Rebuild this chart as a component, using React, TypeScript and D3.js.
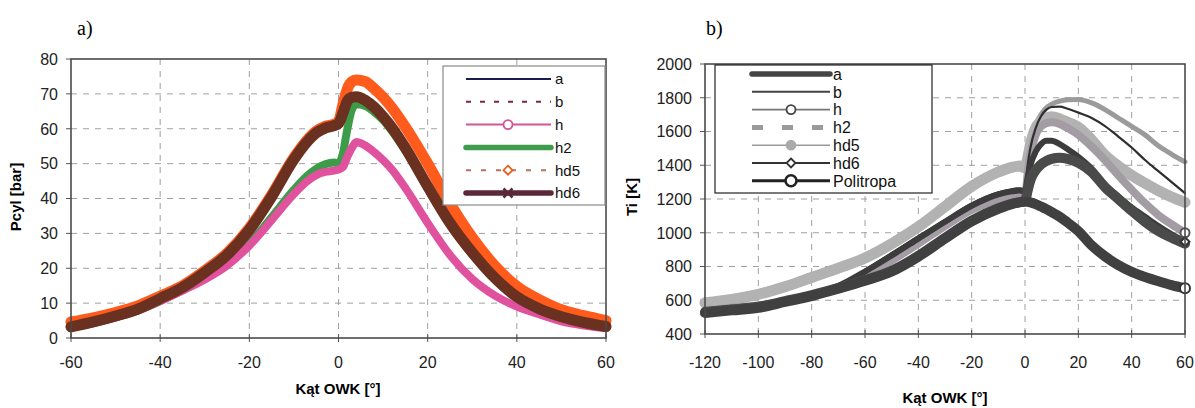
import React from "react";
import * as d3 from "d3";

// ---- panel a) : cylinder pressure ----
const angA = [-60, -55, -50, -45, -40, -35, -30, -25, -20, -15, -10, -7, -5, -3, -1, 0, 1, 2, 3, 4, 6, 8, 10, 12, 15, 20, 25, 30, 35, 40, 45, 50, 55, 60];
const pA = [3.1, 4.5, 6.2, 8.2, 11.1, 14.3, 18.5, 23.5, 30.7, 40, 50.6, 55.8, 58.3, 59.8, 60.5, 61, 64, 67.5, 68.5, 68.8, 67.8, 65.8, 63, 59.8, 54, 43, 32.6, 24.1, 17, 11.6, 8.2, 6, 4.4, 3.2];
const pB = [3.3, 4.7, 6.4, 8.4, 11.4, 14.6, 19, 24, 31.2, 40.7, 51.4, 56.5, 59, 60.4, 61.1, 61.7, 65, 68.3, 69.2, 69.4, 68.4, 66.4, 63.7, 60.5, 54.8, 43.8, 33.3, 24.8, 17.5, 12, 8.5, 6.2, 4.6, 3.4];
const pH = [3, 4.3, 5.9, 7.9, 10.6, 13.6, 16.8, 20.8, 26.5, 33.8, 41.3, 45, 46.7, 47.6, 48, 48.3, 49, 52, 54.5, 56.2, 55.2, 53.3, 51, 48.3, 43, 33, 23.8, 16.9, 12.2, 9, 6.8, 4.8, 3.6, 2.8];
const pH2 = [3, 4.3, 5.9, 7.9, 10.6, 13.7, 17, 21.1, 27, 34.6, 42.5, 46.5, 48.5, 49.8, 50.3, 50, 53, 60, 65.5, 67, 66.5, 64.8, 62.5, 59.3, 53.7, 42.8, 32.4, 24, 17, 11.6, 8.2, 6, 4.4, 3.2];
const pHD5 = [4.6, 5.8, 7.3, 9.2, 12, 15, 19.3, 24.3, 31.5, 41, 51.7, 56.8, 59.3, 60.7, 61.3, 62, 67, 71.5, 73.5, 74, 73.5, 71.5, 69, 66, 60.5, 50, 38.6, 28.8, 20.8, 14.8, 11, 8.1, 6.4, 5];
const pHD6 = [3.2, 4.6, 6.3, 8.3, 11.3, 14.5, 18.8, 23.8, 31, 40.5, 51.2, 56.3, 58.8, 60.2, 60.9, 61.5, 64.5, 68, 69, 69.2, 68.2, 66.2, 63.5, 60.3, 54.5, 43.5, 33, 24.5, 17.3, 11.8, 8.4, 6.1, 4.5, 3.3];
const xTicksA = [-60, -40, -20, 0, 20, 40, 60];
const yTicksA = [0, 10, 20, 30, 40, 50, 60, 70, 80];
const namesA = ["a", "b", "h", "h2", "hd5", "hd6"];

// ---- panel b) : temperature ----
const angB = [-120, -110, -100, -90, -80, -70, -60, -50, -40, -30, -20, -10, -5, -2, 0, 1, 2, 4, 6, 8, 10, 13, 16, 20, 25, 30, 35, 40, 45, 50, 55, 60];
const tA = [530, 545, 560, 595, 631, 672, 720, 775, 863, 970, 1072, 1145, 1172, 1182, 1188, 1250, 1310, 1370, 1405, 1425, 1438, 1445, 1438, 1415, 1360, 1270, 1200, 1130, 1065, 1010, 970, 935];
const tB = [545, 560, 578, 605, 640, 690, 780, 880, 980, 1076, 1174, 1240, 1258, 1263, 1258, 1400, 1500, 1620, 1690, 1730, 1745, 1748, 1735, 1712, 1680, 1632, 1570, 1505, 1431, 1365, 1300, 1234];
const tH = [540, 555, 570, 595, 630, 680, 740, 835, 935, 1040, 1135, 1195, 1210, 1215, 1210, 1350, 1460, 1580, 1630, 1650, 1655, 1645, 1620, 1580, 1510, 1430, 1340, 1255, 1175, 1105, 1050, 1000];
const tH2 = [600, 620, 650, 695, 750, 805, 865, 950, 1050, 1170, 1290, 1370, 1395, 1402, 1388, 1450, 1530, 1640, 1700, 1740, 1762, 1780, 1788, 1790, 1770, 1730, 1680, 1630, 1580, 1515, 1465, 1420];
const tHD5 = [585, 605, 635, 680, 735, 790, 850, 935, 1035, 1155, 1275, 1360, 1388, 1395, 1385, 1440, 1520, 1620, 1660, 1680, 1688, 1675, 1655, 1625, 1550, 1460, 1395, 1340, 1293, 1250, 1212, 1180];
const tHD6 = [540, 555, 572, 600, 636, 685, 770, 865, 965, 1065, 1160, 1228, 1245, 1250, 1245, 1330, 1400, 1480, 1525, 1545, 1545, 1525, 1495, 1450, 1380, 1285, 1215, 1150, 1095, 1040, 990, 947];
const tPol = [525, 540, 555, 590, 625, 668, 715, 770, 858, 965, 1068, 1142, 1170, 1180, 1184, 1183, 1180, 1170, 1155, 1140, 1122, 1095, 1060, 1010, 925, 860, 808, 768, 738, 713, 690, 671];
const xTicksB = [-120, -100, -80, -60, -40, -20, 0, 20, 40, 60];
const yTicksB = [400, 600, 800, 1000, 1200, 1400, 1600, 1800, 2000];
const namesB = ["a", "b", "h", "h2", "hd5", "hd6", "Politropa"];

const sans = "'Liberation Sans', Arial, sans-serif";

const xa = d3.scaleLinear().domain([-60, 60]).range([71, 606]);
const ya = d3.scaleLinear().domain([0, 80]).range([338, 59]);
const xb = d3.scaleLinear().domain([-120, 60]).range([705, 1185]);
const yb = d3.scaleLinear().domain([400, 2000]).range([334, 64]);

function Grid({ x, y, xTicks, yTicks, labelY }) {
  const [x0, x1] = x.range();
  const [y0, y1] = y.range();
  return (
    <g fontFamily={sans} fontSize={16} fill="#222">
      {yTicks.slice(1, -1).map((v) => (
        <line key={"gy" + v} x1={x0} x2={x1} y1={y(v)} y2={y(v)} stroke="#a0a0a0" strokeDasharray="6,6" />
      ))}
      {xTicks.slice(1, -1).map((v) => (
        <line key={"gx" + v} x1={x(v)} x2={x(v)} y1={y1} y2={y0} stroke="#a0a0a0" strokeDasharray="6,6" />
      ))}
      {yTicks.map((v) => (
        <g key={"ty" + v}>
          <line x1={x0 - 5} x2={x0} y1={y(v)} y2={y(v)} stroke="#555" />
          <text x={x0 - 13} y={y(v)} dy="0.36em" textAnchor="end">{v}</text>
        </g>
      ))}
      {xTicks.map((v) => (
        <g key={"tx" + v}>
          <line x1={x(v)} x2={x(v)} y1={y0 - 4} y2={y0 + 4} stroke="#555" />
          <text x={x(v)} y={labelY} textAnchor="middle">{v}</text>
        </g>
      ))}
    </g>
  );
}

function Border({ x, y }) {
  const [x0, x1] = x.range();
  const [y0, y1] = y.range();
  return <rect x={x0} y={y1} width={x1 - x0} height={y0 - y1} fill="none" stroke="#4a4a4a" strokeWidth={1.6} />;
}

function Curve({ ang, vals, x, y, color, width, dash }) {
  const line = d3
    .line()
    .x((d) => x(d[0]))
    .y((d) => y(d[1]))
    .curve(d3.curveMonotoneX);
  const pts = ang.map((a, i) => [a, vals[i]]);
  return (
    <path d={line(pts)} fill="none" stroke={color} strokeWidth={width} strokeDasharray={dash}
      strokeLinejoin="round" strokeLinecap="round" />
  );
}

function Marker({ kind, cx, cy, stroke, fill, r = 4.5, sw = 1.8 }) {
  if (kind === "circle") return <circle cx={cx} cy={cy} r={r} fill={fill} stroke={stroke} strokeWidth={sw} />;
  if (kind === "diamond")
    return (
      <path d={`M${cx},${cy - r}L${cx + r},${cy}L${cx},${cy + r}L${cx - r},${cy}Z`} fill={fill} stroke={stroke} strokeWidth={sw} />
    );
  if (kind === "x")
    return (
      <path d={`M${cx - r},${cy - r}L${cx + r},${cy + r}M${cx - r},${cy + r}L${cx + r},${cy - r}`} stroke={stroke} strokeWidth={2.5} />
    );
  return null;
}

const styleA = {
  a: { color: "#1d1d4d", width: 2 },
  b: { color: "#7a2a3a", width: 2, dash: "5,9" },
  h: { color: "#d2559a", width: 2, marker: "circle", mfill: "#fff" },
  h2: { color: "#3f9b4d", width: 5.5 },
  hd5: { color: "#b87060", width: 2, dash: "5,10", marker: "diamond", mstroke: "#e8601c", mfill: "#fff" },
  hd6: { color: "#5a2838", width: 5.5, marker: "x" },
};

const styleB = {
  a: { color: "#444", width: 5.5 },
  b: { color: "#444", width: 2 },
  h: { color: "#777", width: 1.6, marker: "circle", mfill: "#fff", mstroke: "#444" },
  h2: { color: "#9a9a9a", width: 5, dash: "11,19" },
  hd5: { color: "#9a9a9a", width: 1.6, marker: "circle", mfill: "#aaa", mstroke: "#aaa" },
  hd6: { color: "#333", width: 2, marker: "diamond", mfill: "#fff", mstroke: "#333" },
  Politropa: { color: "#222", width: 3, marker: "circle", mfill: "#fff", mstroke: "#222", r: 5.5, sw: 2.6 },
};

function Legend({ names, styles, box, lx0, lx1, mx, tx, rowY, step, fontSize, border }) {
  return (
    <g fontFamily={sans} fontSize={fontSize} fill="#111">
      <rect x={box[0]} y={box[1]} width={box[2]} height={box[3]} fill="#fff" stroke={border} strokeWidth={1.2} />
      {names.map((n, i) => {
        const s = styles[n];
        const cy = rowY + i * step;
        return (
          <g key={n}>
            <line x1={lx0} x2={lx1} y1={cy} y2={cy} stroke={s.color} strokeWidth={s.width} strokeDasharray={s.dash}
              strokeLinecap={s.width > 4 && !s.dash ? "round" : "butt"} />
            {s.marker && (
              <Marker kind={s.marker} cx={mx} cy={cy} stroke={s.mstroke || s.color} fill={s.mfill || "none"} r={s.r} sw={s.sw} />
            )}
            <text x={tx} y={cy} dy="0.36em">{n}</text>
          </g>
        );
      })}
    </g>
  );
}

export default function App() {
  const endA = angB[angB.length - 1];
  return (
    <svg width={1195} height={408} style={{ position: "absolute", left: 0, top: 0, background: "#fff" }}>
      <rect width={1195} height={408} fill="#fff" />
      <text x={77} y={35} fontFamily="'Liberation Serif', 'Times New Roman', serif" fontSize={20}>a)</text>
      <text x={706} y={35} fontFamily="'Liberation Serif', 'Times New Roman', serif" fontSize={20}>b)</text>

      {/* panel a */}
      <Grid x={xa} y={ya} xTicks={xTicksA} yTicks={yTicksA} labelY={368} />
      <Curve ang={angA} vals={pA} x={xa} y={ya} color="#1d1d4d" width={2} />
      <Curve ang={angA} vals={pB} x={xa} y={ya} color="#7a2a3a" width={2} dash="5,9" />
      <Curve ang={angA} vals={pH2} x={xa} y={ya} color="#3c9c4a" width={8} />
      <Curve ang={angA} vals={pH} x={xa} y={ya} color="#e0529e" width={8} />
      <Curve ang={angA} vals={pHD5} x={xa} y={ya} color="#ff5b1c" width={11} />
      <Curve ang={angA} vals={pHD6} x={xa} y={ya} color="#6a3120" width={11} />
      <Border x={xa} y={ya} />
      <Legend names={namesA} styles={styleA} box={[443, 66, 162, 139]} lx0={466} lx1={551} mx={508} tx={555}
        rowY={79} step={22.8} fontSize={15} border="#8a8a8a" />
      <text x={16} y={197} transform="rotate(-90 16 197)" textAnchor="middle" dy="0.36em"
        fontFamily={sans} fontWeight="bold" fontSize={15}>Pcyl [bar]</text>
      <text x={338} y={394} textAnchor="middle" fontFamily={sans} fontWeight="bold" fontSize={15}>Kąt OWK [°]</text>

      {/* panel b */}
      <Grid x={xb} y={yb} xTicks={xTicksB} yTicks={yTicksB} labelY={368} />
      <Curve ang={angB} vals={tH2} x={xb} y={yb} color="#9b9b9b" width={5} />
      <Curve ang={angB} vals={tHD5} x={xb} y={yb} color="#b2b2b2" width={11} />
      <Curve ang={angB} vals={tH} x={xb} y={yb} color="#a49ca4" width={8} />
      <Curve ang={angB} vals={tB} x={xb} y={yb} color="#2e2e2e" width={2.2} />
      <Curve ang={angB} vals={tHD6} x={xb} y={yb} color="#3c3c3c" width={6} />
      <Curve ang={angB} vals={tA} x={xb} y={yb} color="#4a4a4a" width={10} />
      <Curve ang={angB} vals={tPol} x={xb} y={yb} color="#404040" width={10} />
      <Marker kind="circle" cx={xb(endA)} cy={yb(tPol[tPol.length - 1])} stroke="#333" fill="#fff" r={5} sw={2} />
      <Marker kind="circle" cx={xb(endA)} cy={yb(tH[tH.length - 1])} stroke="#555" fill="#fff" r={4.5} sw={2} />
      <Marker kind="diamond" cx={xb(endA)} cy={yb(tHD6[tHD6.length - 1])} stroke="#333" fill="#fff" r={4.5} sw={2} />
      <Border x={xb} y={yb} />
      <Legend names={namesB} styles={styleB} box={[715, 65, 217, 128]} lx0={752} lx1={830} mx={791} tx={833}
        rowY={74} step={17.8} fontSize={16} border="#222" />
      <text x={632} y={197} transform="rotate(-90 632 197)" textAnchor="middle" dy="0.36em"
        fontFamily={sans} fontWeight="bold" fontSize={15}>Ti [K]</text>
      <text x={945} y={403} textAnchor="middle" fontFamily={sans} fontWeight="bold" fontSize={15}>Kąt OWK [°]</text>
    </svg>
  );
}
